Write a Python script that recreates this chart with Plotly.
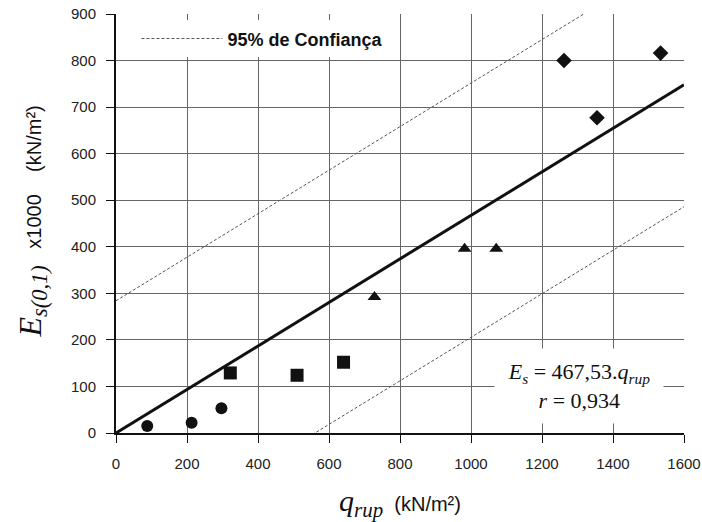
import plotly.graph_objects as go

# Measured points, grouped by marker shape
circ_q = [88, 213, 297]
circ_e = [15, 22, 53]
sq_q = [322, 510, 641]
sq_e = [129, 124, 152]
tri_q = [728, 982, 1071]
tri_e = [292, 396, 396]
dia_q = [1262, 1355, 1534]
dia_e = [800, 677, 816]

# Regression through the origin: Es = 467.53 * q_rup  (axis shows Es / 1000)
slope = 467.53 / 1000
fit_q = [0, 1600]
band_upper = 284
band_lower = -262

x_ticks = [0, 200, 400, 600, 800, 1000, 1200, 1400, 1600]
y_ticks = [0, 100, 200, 300, 400, 500, 600, 700, 800, 900]

black = "#111111"
fig = go.Figure()

fig.add_trace(go.Scatter(
    x=fit_q, y=[slope * q + band_upper for q in fit_q], mode="lines",
    line=dict(color="#555555", width=1, dash="3px,2px"),
    name="95% de Confiança", showlegend=True, hoverinfo="skip"))
fig.add_trace(go.Scatter(
    x=fit_q, y=[slope * q + band_lower for q in fit_q], mode="lines",
    line=dict(color="#555555", width=1, dash="3px,2px"),
    showlegend=False, hoverinfo="skip"))
fig.add_trace(go.Scatter(
    x=fit_q, y=[slope * q for q in fit_q], mode="lines",
    line=dict(color=black, width=3), showlegend=False))

for xs, ys, sym, sz in [(circ_q, circ_e, "circle", 12),
                        (sq_q, sq_e, "square", 13),
                        (tri_q, tri_e, "triangle-up", 12),
                        (dia_q, dia_e, "diamond", 12)]:
    fig.add_trace(go.Scatter(
        x=xs, y=ys, mode="markers", showlegend=False,
        marker=dict(symbol=sym, size=sz, color=black, line=dict(width=0))))

sans = "Arial, Liberation Sans"
serif = "Times New Roman, Liberation Serif"

axis_common = dict(
    showline=True, linecolor=black, linewidth=2, mirror=False,
    showgrid=True, gridcolor="#666666", gridwidth=1,
    ticks="outside", ticklen=8, tickcolor=black, tickwidth=1,
    tickfont=dict(family=sans, size=15, color="#222222"),
    zeroline=False, fixedrange=True, automargin=False,
)
fig.update_xaxes(range=[0, 1600], tickvals=x_ticks, ticklabelstandoff=8, **axis_common)
fig.update_yaxes(range=[0, 900], tickvals=y_ticks, ticklabelstandoff=7, **axis_common)

fig.add_annotation(
    xref="paper", yref="paper", x=0, y=0.5, xanchor="center", yanchor="middle",
    xshift=-84, yshift=2, textangle=-90, showarrow=False,
    text=(f'<span style="font-family:{serif};font-size:32px"><i>E<sub>s(0,1)</sub></i></span>'
          f'<span style="font-family:{sans};font-size:20px">   x1000    (kN/m²)</span>'),
    font=dict(color=black))
fig.add_annotation(
    xref="paper", yref="paper", x=0.5, y=0, xanchor="center", yanchor="middle",
    yshift=-70, showarrow=False,
    text=(f'<span style="font-family:{serif};font-size:30px"><i>q<sub>rup</sub></i></span>'
          f'<span style="font-family:{sans};font-size:20px">  (kN/m²)</span>'),
    font=dict(color=black))

fig.add_annotation(
    xref="x", yref="y", x=1305, y=100, xanchor="center", yanchor="middle",
    showarrow=False, bgcolor="white", width=168, height=74, borderpad=0,
    text=(f"<i>E<sub>s</sub></i> = 467,53.<i>q<sub>rup</sub></i><br>"
          f"<i>r</i> = 0,934"),
    font=dict(family=serif, size=22, color=black))

fig.update_layout(
    width=702, height=522,
    margin=dict(l=116, r=18, t=14, b=89),
    paper_bgcolor="white", plot_bgcolor="white",
    showlegend=True,
    legend=dict(x=0.036, y=0.985, xanchor="left", yanchor="top",
                bgcolor="white", borderwidth=0,
                font=dict(family=sans, size=18, color=black, weight="bold"),
                itemwidth=81),
)

fig.write_html("out.html")
